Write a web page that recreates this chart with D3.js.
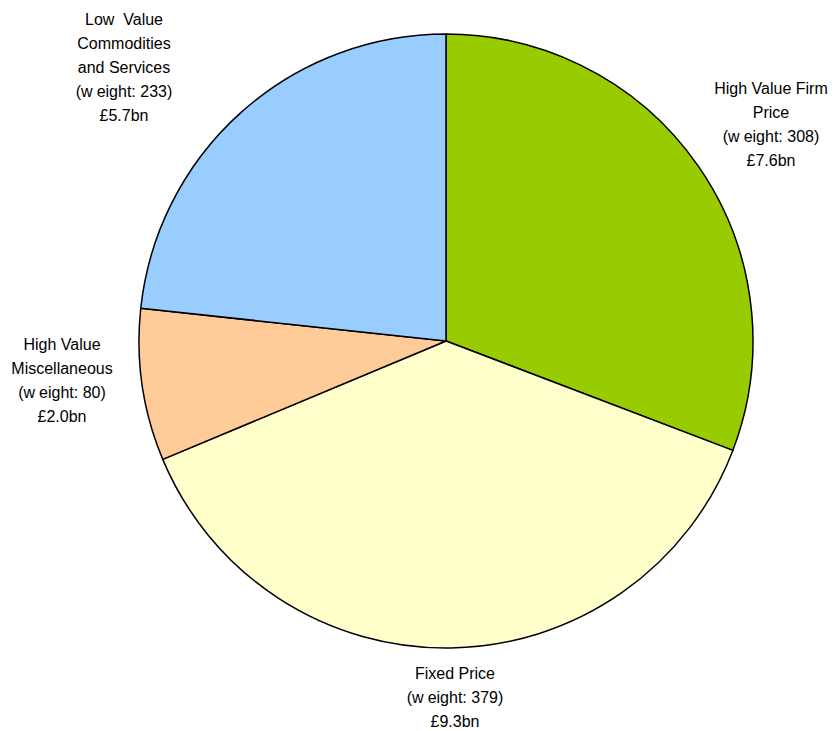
<!DOCTYPE html>
<html>
<head>
<meta charset="utf-8">
<script src="https://cdn.jsdelivr.net/npm/d3@7"></script>
<style>
  html, body { margin: 0; padding: 0; background: #fff; }
  svg text { font-family: "Liberation Sans", Arial, sans-serif; font-size: 16px; fill: #000; }
</style>
</head>
<body>
<svg id="chart" width="837" height="731"></svg>
<script>
// Contract categories, in clockwise order from 12 o'clock
const categories = [
  "High Value Firm Price",
  "Fixed Price",
  "High Value Miscellaneous",
  "Low Value Commodities and Services"
];
const weights = [308, 379, 80, 233];
const values = ["£7.6bn", "£9.3bn", "£2.0bn", "£5.7bn"];
const colors = ["#99CC00", "#FFFFCC", "#FFCC99", "#99CCFF"];

// Label text, split into lines as set on the chart
const labelLines = [
  ["High Value Firm", "Price"],
  ["Fixed Price"],
  ["High Value", "Miscellaneous"],
  ["Low  Value", "Commodities", "and Services"]
];
// Label anchor points (centre x, first baseline y)
const labelPos = [[771, 94], [455, 679], [62, 350], [124, 25]];

const svg = d3.select("#chart");
const cx = 446, cy = 341, r = 307;

const pie = d3.pie().sort(null).value(d => d);
const arcs = pie(weights);
const arc = d3.arc().innerRadius(0).outerRadius(r);

const g = svg.append("g").attr("transform", `translate(${cx},${cy})`);
g.selectAll("path")
  .data(arcs)
  .join("path")
  .attr("d", arc)
  .attr("fill", (d, i) => colors[i])
  .attr("stroke", "#000")
  .attr("stroke-width", 1.5)
  .attr("stroke-linejoin", "round");

const lineH = 24;
svg.selectAll("g.lbl")
  .data(categories)
  .join("g")
  .attr("class", "lbl")
  .each(function(d, i) {
    const [x, y0] = labelPos[i];
    const grp = d3.select(this);
    const lines = labelLines[i];
    lines.forEach((ln, k) => {
      grp.append("text")
        .attr("text-anchor", "middle")
        .attr("x", x)
        .attr("y", y0 + k * lineH)
        .style("white-space", "pre")
        .text(ln);
    });
    // weight line, set with the slightly open "w" spacing of the original
    const wt = grp.append("text")
      .attr("text-anchor", "middle")
      .attr("x", x)
      .attr("y", y0 + lines.length * lineH);
    wt.append("tspan").text("(w");
    wt.append("tspan").attr("dx", 4).text(`eight: ${weights[i]})`);
    grp.append("text")
      .attr("text-anchor", "middle")
      .attr("x", x)
      .attr("y", y0 + (lines.length + 1) * lineH)
      .text(values[i]);
  });
</script>
</body>
</html>
